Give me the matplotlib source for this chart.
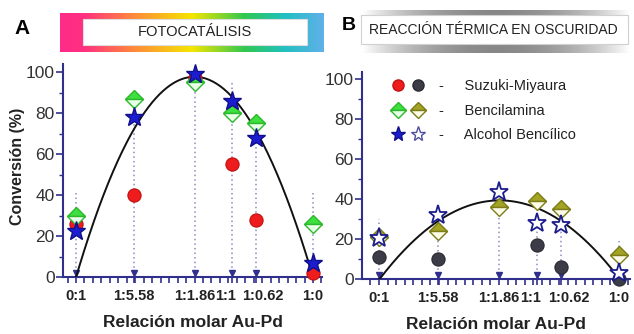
import numpy as np
import matplotlib.pyplot as plt
import matplotlib.transforms as mtransforms
from matplotlib.colors import LinearSegmentedColormap
from matplotlib.patches import Rectangle
from matplotlib.lines import Line2D
from matplotlib.legend_handler import HandlerTuple
from matplotlib.ticker import MultipleLocator

plt.rcParams['font.family'] = ['Liberation Sans', 'DejaVu Sans']

ratios = ['0:1', '1:5.58', '1:1.86', '1:1', '1:0.62', '1:0']
ratio_pos = [0, 24.5, 50, 66, 76, 100]

# A - fotocatalisis
suzuki_light = [26, 40, 97, 55, 28, 2]
bencil_light = [30, 87, 95, 80, 75, 26]
alcohol_light = [22.5, 78, 99, 86, 68, 7]
fit_light = [0, 72, 98, 88, 71, 0]
drop_light = [42, 75, 95, 95, 72, 41]

# B - reaccion termica en oscuridad
suzuki_dark = [11, 10, np.nan, 17, 6, 0]
bencil_dark = [21, 24, 36, 39, 35, 12]
alcohol_dark = [20.5, 32, 43.5, 28, 27, 3]
fit_dark = [0, 28, 39.5, 35, 30, 0]
drop_dark = [30, 30, 50, 28, 30, 19]

NAVY = '#30308c'
W, H = 634, 334

fig = plt.figure(figsize=(W / 100, H / 100), dpi=100)

# overlay in pixel coords for the headers
deco = fig.add_axes([0, 0, 1, 1], zorder=0)
deco.set_xlim(0, W)
deco.set_ylim(H, 0)
deco.axis('off')

rainbow = LinearSegmentedColormap.from_list('rb', [
    (0.0, '#ff2a8a'), (0.09, '#ff3080'), (0.28, '#ff8a3a'), (0.5, '#f4e600'),
    (0.7, '#30c850'), (0.85, '#20c0c0'), (1.0, '#60b0ea')])
grad = np.linspace(0, 1, 256).reshape(1, -1)
deco.imshow(grad, cmap=rainbow, extent=[60, 324, 52, 13], aspect='auto')
deco.add_patch(Rectangle((83, 18.5), 224, 26, facecolor='white',
                         edgecolor='#dddddd', lw=0.8))
deco.text(195, 32, 'FOTOCATÁLISIS', ha='center', va='center', fontsize=10.5,
          color='#222222')
deco.text(22, 28, 'A', ha='center', va='center', fontsize=15,
          fontweight='bold', color='black')

# grey shadow behind the B header box
xs = np.linspace(-1, 1, 256)
shade = np.zeros((1, 256, 4))
shade[..., :3] = 0.45
shade[..., 3] = 0.85 * (1 - xs ** 2)
deco.imshow(shade, extent=[362, 630, 53, 10], aspect='auto')
deco.add_patch(Rectangle((361, 15), 267, 29, facecolor='white',
                         edgecolor='#d0d0d0', lw=0.8))
deco.text(493, 30, 'REACCIÓN TÉRMICA EN OSCURIDAD', ha='center',
          va='center', fontsize=10, color='#222222')
deco.text(349, 25, 'B', ha='center', va='center', fontsize=14,
          fontweight='bold', color='black')
deco.text(18, 166, 'Conversión (%)', ha='center', va='center', rotation=90,
          fontsize=11.5, fontweight='bold', color='#222222')


def style_axes(ax, xlim, ylim):
    ax.set_xlim(*xlim)
    ax.set_ylim(*ylim)
    for side in ['top', 'right']:
        ax.spines[side].set_visible(False)
    for side in ['left', 'bottom']:
        ax.spines[side].set_color(NAVY)
        ax.spines[side].set_linewidth(1.5)
    ax.set_yticks([0, 20, 40, 60, 80, 100])
    ax.yaxis.set_minor_locator(MultipleLocator(10))
    ax.set_xticks(ratio_pos)
    ax.set_xticklabels(ratios, fontweight='bold', fontsize=10.5,
                       color='#222222')
    ax.xaxis.set_minor_locator(MultipleLocator(100 / 28))
    ax.tick_params(axis='y', which='major', length=5, width=1.2,
                   color=NAVY, labelsize=12.5, labelcolor='#333333', pad=1)
    ax.tick_params(axis='y', which='minor', length=3, width=1, color=NAVY)
    ax.tick_params(axis='x', which='both', length=4, width=1.2,
                   color=NAVY, pad=5)
    # push apart the crowded 1:1 / 1:0.62 labels
    labels = ax.get_xticklabels()
    labels[3].set_transform(labels[3].get_transform() + mtransforms.ScaledTranslation(-7 / 100, 0, fig.dpi_scale_trans))
    labels[4].set_transform(labels[4].get_transform() + mtransforms.ScaledTranslation(7 / 100, 0, fig.dpi_scale_trans))
    ax.set_xlabel('Relación molar Au-Pd', fontweight='bold', fontsize=12.5,
                  color='#222222', labelpad=8)


def drop_lines(ax, tops):
    ax.vlines(ratio_pos, 0, tops, colors='#8a8ac8', linestyles=(0, (1, 2)),
              lw=1.1, zorder=1)
    ax.plot(ratio_pos, [2] * len(ratio_pos), 'v', color=NAVY, ms=4,
            zorder=2, clip_on=False)


def fit_curve(ax, vals):
    coef = np.polyfit(ratio_pos, vals, 2)
    xx = np.linspace(0, 100, 200)
    yy = np.polyval(coef, xx)
    ax.plot(xx, np.clip(yy, 0, None), color='#111111', lw=1.4, zorder=3)


# ---- panel A
axA = fig.add_axes([63 / W, (H - 277) / H, 259 / W, 213 / H], zorder=2)
axA.set_facecolor('none')
style_axes(axA, (-5.5, 103.8), (0, 104))
drop_lines(axA, drop_light)
fit_curve(axA, fit_light)
axA.plot(ratio_pos, suzuki_light, 'o', ms=9.5, mfc='#ee1c1c', mec='#c01010',
         mew=0.8, zorder=4, clip_on=False)
axA.plot(ratio_pos, bencil_light, 'D', ms=9, mfc='#3ee03e', mec='#2cb82c',
         mfcalt='#e8ffe8', fillstyle='top', mew=1, zorder=5, clip_on=False)
axA.plot(ratio_pos, alcohol_light, '*', ms=14, mfc='#1c1cd0', mec='#10108a',
         mew=1, zorder=6, clip_on=False)

# ---- panel B
axB = fig.add_axes([362 / W, (H - 279) / H, 268 / W, 207 / H], zorder=2)
axB.set_facecolor('none')
style_axes(axB, (-7.1, 104.6), (0, 103.5))
drop_lines(axB, drop_dark)
fit_curve(axB, fit_dark)
axB.plot(ratio_pos, suzuki_dark, 'o', ms=9.5, mfc='#3c3c48', mec='#2a2a30',
         mew=0.8, zorder=4, clip_on=False)
axB.plot(ratio_pos, bencil_dark, 'D', ms=9, mfc='#a4a424', mec='#7c7c18',
         mfcalt='#fbfbe8', fillstyle='top', mew=1, zorder=5, clip_on=False)
axB.plot(ratio_pos, alcohol_dark, '*', ms=14, mfc='white', mec='#1c1c8c',
         mew=1.3, zorder=6, clip_on=False)

# legend (both panels' markers)
h_red = Line2D([], [], ls='', marker='o', ms=8, mfc='#ee1c1c', mec='#c01010')
h_blk = Line2D([], [], ls='', marker='o', ms=8, mfc='#3c3c48', mec='#2a2a30')
h_grn = Line2D([], [], ls='', marker='D', ms=8, mfc='#3ee03e', mec='#2cb82c',
               mfcalt='#e8ffe8', fillstyle='top')
h_olv = Line2D([], [], ls='', marker='D', ms=8, mfc='#a4a424', mec='#7c7c18',
               mfcalt='#fbfbe8', fillstyle='top')
h_blu = Line2D([], [], ls='', marker='*', ms=11, mfc='#1c1cd0', mec='#10108a')
h_opn = Line2D([], [], ls='', marker='*', ms=11, mfc='white', mec='#5050a0')
axB.legend([(h_red, h_blk), (h_grn, h_olv), (h_blu, h_opn)],
           ['-     Suzuki-Miyaura', '-     Bencilamina', '-     Alcohol Bencílico'],
           handler_map={tuple: HandlerTuple(ndivide=None, pad=0.74)},
           loc='upper left', bbox_to_anchor=(0.117, 0.965), frameon=False,
           fontsize=10.5, handlelength=2.0, handletextpad=1.1,
           labelspacing=0.72, borderpad=0, borderaxespad=0,
           labelcolor='#222222')

fig.savefig('out.png', dpi=100)
